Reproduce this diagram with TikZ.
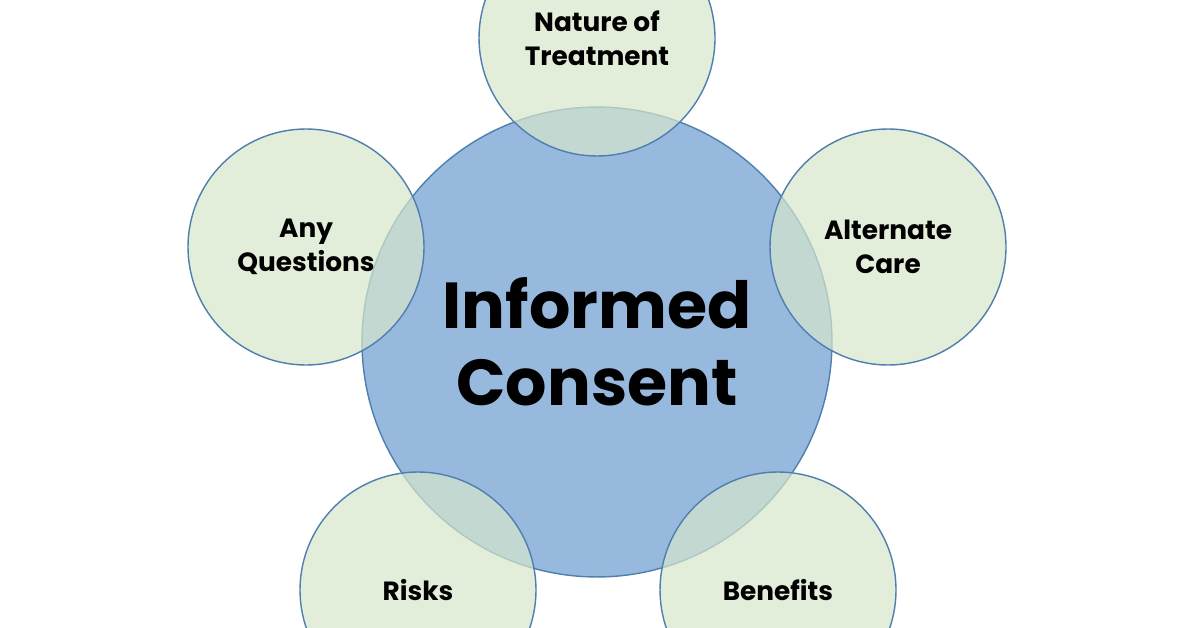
\documentclass[tikz,border=0pt]{standalone}
\usepackage{fontspec}
\setmainfont{Poppins}
\usepackage{tikz}
\definecolor{ringblue}{HTML}{4F7FAF}
\definecolor{hubfill}{HTML}{7FA8D6}
\definecolor{petalfill}{HTML}{D6E6CB}
\tikzset{
    hub/.style={circle, draw=ringblue, thick, fill=hubfill, fill opacity=0.8, text opacity=1,
        minimum size=9.4cm, align=center, font=\fontsize{37}{44}\selectfont\bfseries},
    petal/.style={circle, draw=ringblue, thick, fill=petalfill, fill opacity=0.7, text opacity=1,
        minimum size=4.72cm, align=center, font=\fontsize{15}{19.5}\selectfont\bfseries}
}
\begin{document}
\begin{tikzpicture}[x=0.02cm,y=-0.02cm]
    \useasboundingbox (0,0) rectangle (1196,628);
    \fill[white] (0,0) rectangle (1196,628);

    % centre
    \node[hub] (consent) at (597,342) {Informed\\Consent};

    % petals
    \node[petal] (nature) at (597,38) {Nature of\\Treatment};
    \node[petal] (questions) at (306,247) {Any\\Questions};
    \node[petal] (alternate) at (888,247) {Alternate\\Care};
    \node[petal] (risks) at (418,590) {Risks};
    \node[petal] (benefits) at (778,590) {Benefits};
\end{tikzpicture}
\end{document}
